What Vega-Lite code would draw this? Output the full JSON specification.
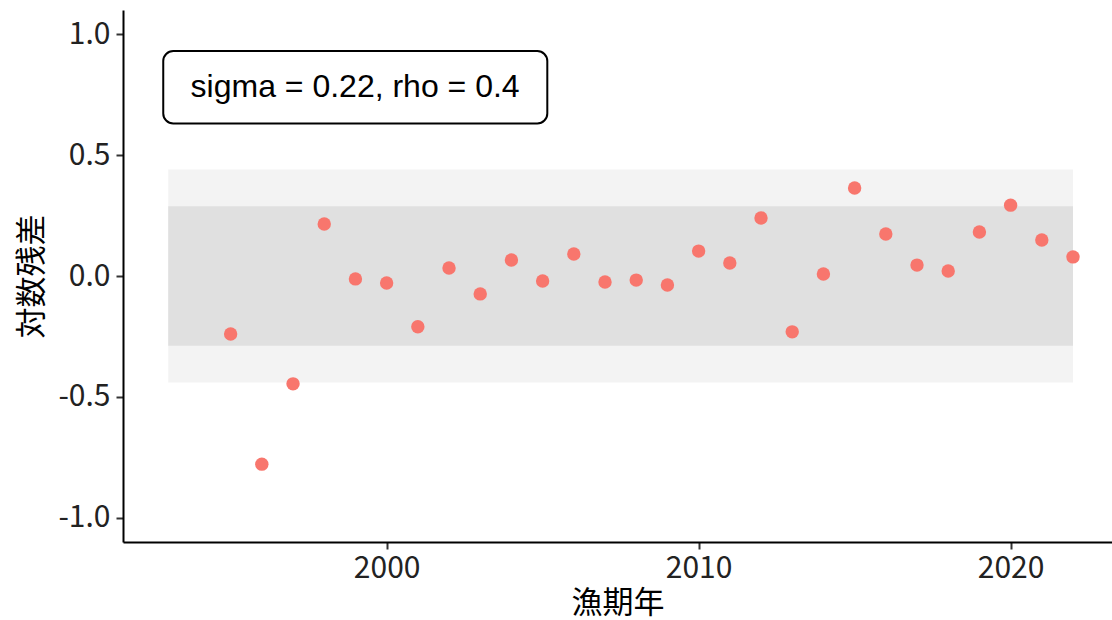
{
  "$schema": "https://vega.github.io/schema/vega-lite/v6.json",
  "autosize": "none",
  "width": 989,
  "height": 532,
  "padding": {"left": 123, "top": 10, "right": 0, "bottom": 78},
  "background": "white",
  "config": {
    "view": {"stroke": null},
    "font": "Noto Sans CJK JP",
    "axis": {
      "grid": false,
      "domainColor": "black",
      "domainWidth": 2,
      "tickColor": "#333333",
      "tickWidth": 2,
      "tickSize": 7,
      "labelFont": "Noto Sans CJK JP",
      "labelFontSize": 30,
      "labelColor": "#222222",
      "titleFont": "Noto Sans CJK JP",
      "titleFontSize": 31,
      "titleFontWeight": "normal",
      "titleColor": "black"
    }
  },
  "datasets": {
    "resid": [
      {"year": 1995, "resid": -0.240},
      {"year": 1996, "resid": -0.778},
      {"year": 1997, "resid": -0.446},
      {"year": 1998, "resid": 0.215},
      {"year": 1999, "resid": -0.012},
      {"year": 2000, "resid": -0.029},
      {"year": 2001, "resid": -0.210},
      {"year": 2002, "resid": 0.033},
      {"year": 2003, "resid": -0.074},
      {"year": 2004, "resid": 0.066},
      {"year": 2005, "resid": -0.021},
      {"year": 2006, "resid": 0.091},
      {"year": 2007, "resid": -0.025},
      {"year": 2008, "resid": -0.017},
      {"year": 2009, "resid": -0.037},
      {"year": 2010, "resid": 0.103},
      {"year": 2011, "resid": 0.054},
      {"year": 2012, "resid": 0.240},
      {"year": 2013, "resid": -0.231},
      {"year": 2014, "resid": 0.008},
      {"year": 2015, "resid": 0.364},
      {"year": 2016, "resid": 0.174},
      {"year": 2017, "resid": 0.045},
      {"year": 2018, "resid": 0.021},
      {"year": 2019, "resid": 0.182},
      {"year": 2020, "resid": 0.293},
      {"year": 2021, "resid": 0.149},
      {"year": 2022, "resid": 0.079}
    ],
    "bands": [
      {"band": "outer", "start": 1993, "end": 2022, "lo": -0.44, "hi": 0.44},
      {"band": "inner", "start": 1993, "end": 2022, "lo": -0.288, "hi": 0.288}
    ],
    "label": [
      {"text": "sigma = 0.22, rho = 0.4", "x0": 1992.84, "x1": 2005.15, "y0": 0.631, "y1": 0.930, "xc": 1998.99, "yc": 0.782}
    ]
  },
  "layer": [
    {
      "data": {"name": "bands"},
      "mark": {"type": "rect"},
      "encoding": {
        "x": {"field": "start", "type": "quantitative", "scale": {"domain": [1991.55, 2023.25], "nice": false, "zero": false},
              "axis": {"values": [2000, 2010, 2020], "format": "d", "title": "漁期年", "labelPadding": 4, "titlePadding": 5}},
        "x2": {"field": "end"},
        "y": {"field": "lo", "type": "quantitative", "scale": {"domain": [-1.1, 1.1], "nice": false, "zero": false},
              "axis": {"values": [-1, -0.5, 0, 0.5, 1], "labelExpr": "replace(format(datum.value, '.1f'), '\u2212', '-')", "title": "対数残差", "labelPadding": 6, "titlePadding": 9}},
        "y2": {"field": "hi"},
        "color": {"field": "band", "type": "nominal", "scale": {"domain": ["outer", "inner"], "range": ["#F3F3F3", "#E0E0E0"]}, "legend": null}
      }
    },
    {
      "mark": {"type": "rule", "color": "black", "strokeWidth": 2},
      "encoding": {"y": {"datum": 0, "type": "quantitative"}}
    },
    {
      "data": {"name": "resid"},
      "mark": {"type": "circle", "size": 180, "color": "#F8766D", "opacity": 1},
      "encoding": {
        "x": {"field": "year", "type": "quantitative"},
        "y": {"field": "resid", "type": "quantitative"}
      }
    },
    {
      "data": {"name": "label"},
      "mark": {"type": "rect", "fill": "white", "stroke": "black", "strokeWidth": 2, "cornerRadius": 10},
      "encoding": {
        "x": {"field": "x0", "type": "quantitative"},
        "x2": {"field": "x1"},
        "y": {"field": "y0", "type": "quantitative"},
        "y2": {"field": "y1"}
      }
    },
    {
      "data": {"name": "label"},
      "mark": {"type": "text", "font": "Liberation Sans", "fontSize": 32, "color": "black", "align": "center", "baseline": "middle"},
      "encoding": {
        "x": {"field": "xc", "type": "quantitative"},
        "y": {"field": "yc", "type": "quantitative"},
        "text": {"field": "text"}
      }
    }
  ]
}
